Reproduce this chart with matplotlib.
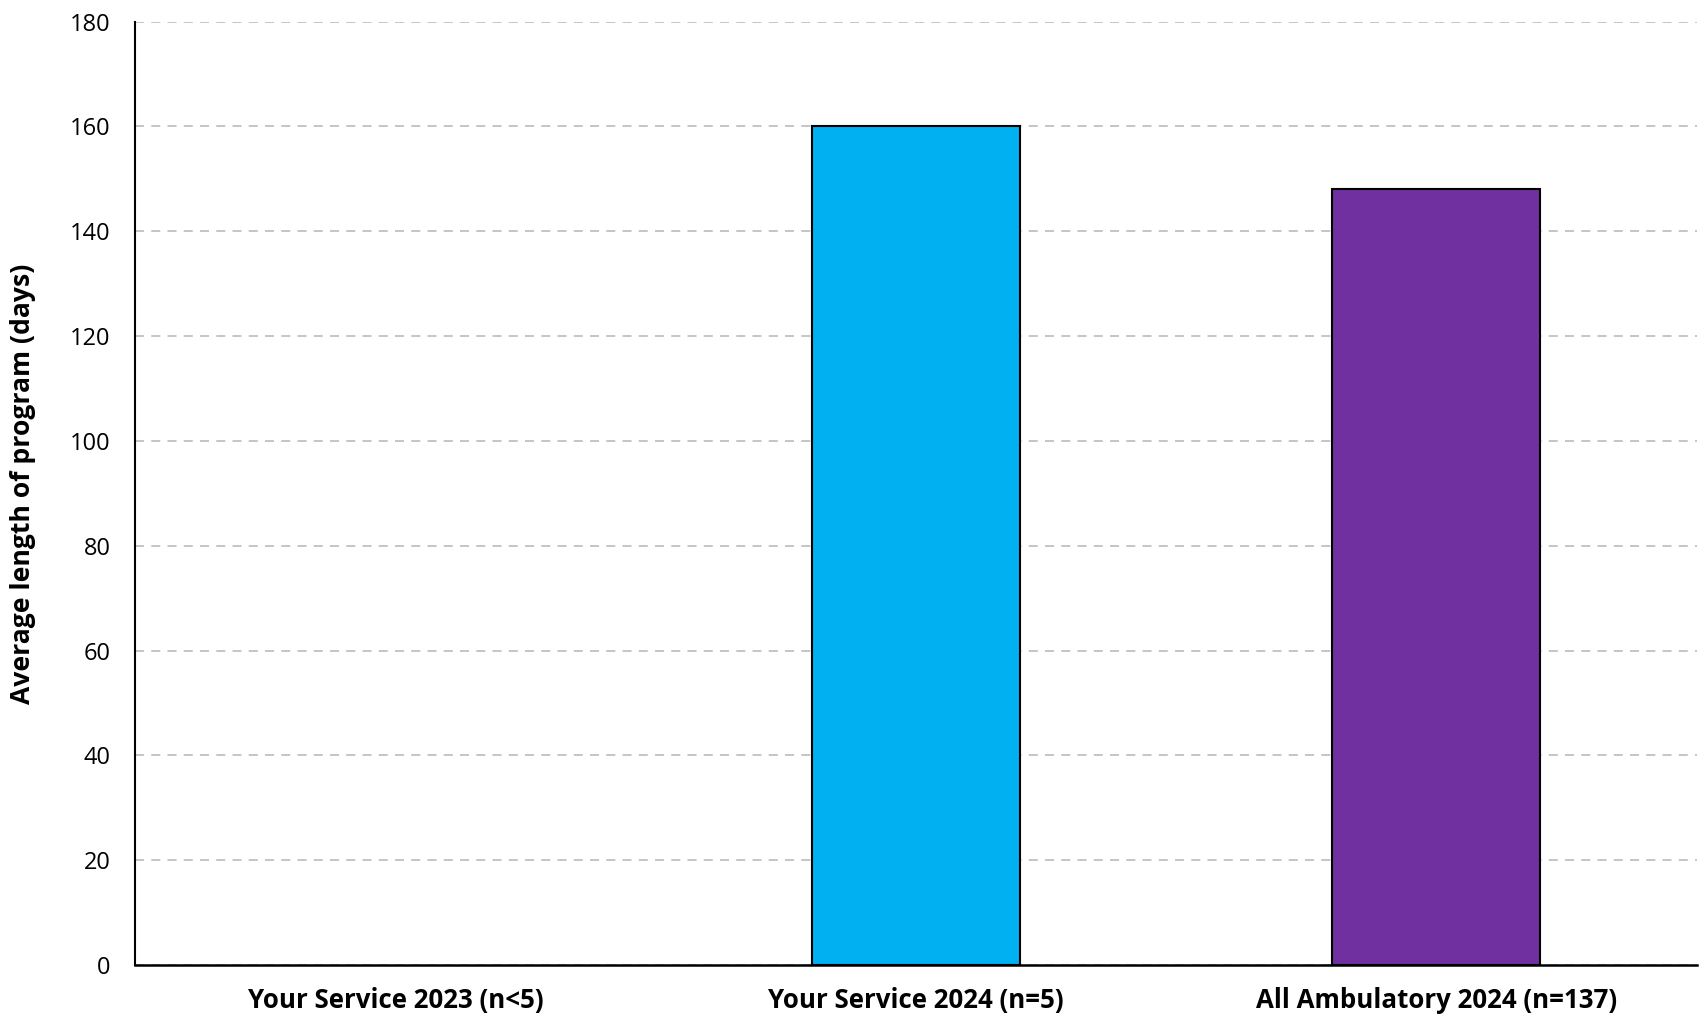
import matplotlib
matplotlib.use("Agg")
import matplotlib.pyplot as plt
import numpy as np

categories = ["Your Service 2023 (n<5)", "Your Service 2024 (n=5)", "All Ambulatory 2024 (n=137)"]
values = [np.nan, 160, 148]
colors = ["#00B0F0", "#00B0F0", "#7030A0"]
yticks = [0, 20, 40, 60, 80, 100, 120, 140, 160, 180]

plt.rcParams['font.family'] = ['Open Sans', 'DejaVu Sans']

fig = plt.figure(figsize=(17, 10.23), dpi=100)
ax = fig.add_axes([0.0797, 0.0567, 0.9183, 0.9221])

x = np.arange(len(categories))
ax.bar(x, values, width=0.4, color=colors, edgecolor="black", linewidth=1.5, zorder=3)

ax.set_xlim(-0.5, 2.5)
ax.set_ylim(0, 180)
ax.set_yticks(yticks)
ax.set_xticks(x)
ax.set_xticklabels(categories, fontsize=18.6, fontweight="bold")
ax.tick_params(axis="y", length=0, labelsize=17, pad=18)
ax.tick_params(axis="x", length=0, pad=16)
ax.yaxis.grid(True, linestyle=(0, (5, 4)), color="#C0C0C0", linewidth=1.3, zorder=0)
ax.set_axisbelow(True)
for s in ["top", "right"]:
    ax.spines[s].set_visible(False)
ax.spines["left"].set_linewidth(1.5)
ax.spines["bottom"].set_linewidth(1.8)
ax.set_ylabel("Average length of program (days)", fontsize=19.1, fontweight="bold")
ax.yaxis.set_label_coords(-0.0637, 0.51)

fig.savefig("out.png", dpi=100)
